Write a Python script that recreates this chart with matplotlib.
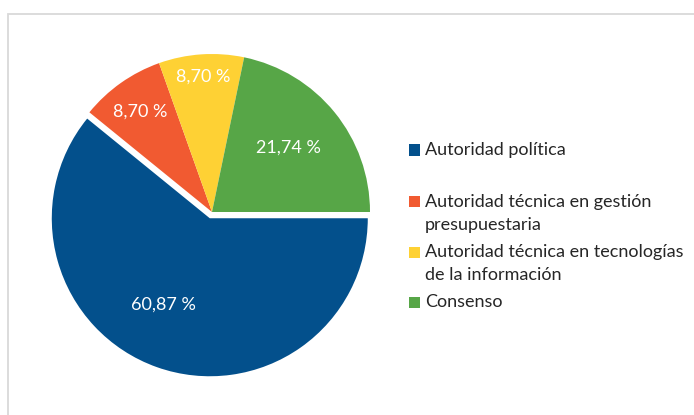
import matplotlib
matplotlib.use("Agg")
import matplotlib.pyplot as plt
from matplotlib.patches import Rectangle
import numpy as np

plt.rcParams['font.family'] = ['Lato', 'DejaVu Sans']

labels = ["Autoridad política",
          "Autoridad técnica en gestión\npresupuestaria",
          "Autoridad técnica en tecnologías\nde la información",
          "Consenso"]
values = [60.87, 8.70, 8.70, 21.74]
colors = ["#03508C", "#F15A31", "#FED134", "#57A647"]

W, H = 694, 415
fig = plt.figure(figsize=(W / 100, H / 100), dpi=100)

# chart border (light grey), runs off right and bottom
fig.add_artist(Rectangle((7.5 / W, -0.1), 1.2, (H - 14.5) / H + 0.1,
                         transform=fig.transFigure, fill=False,
                         edgecolor="#D9D9D9", linewidth=1.3))

R = 158
cx, cy = 212, 212
half = 1.1 * R
ax = fig.add_axes([(cx - half) / W, (H - cy - half) / H, 2 * half / W, 2 * half / H])

wedges, _ = ax.pie(values, colors=colors, startangle=0, counterclock=False,
                   explode=[0.042, 0, 0, 0], radius=1.0)
ax.set_xlim(-1.1, 1.1)
ax.set_ylim(-1.1, 1.1)
ax.axis("off")

# label placement per slice (distance from centre, angle tweak)
lab_dist = [0.62, 0.78, 0.86, 0.63]
lab_rot = [-9, 0.5, 0, 1]
for w, v, d, rot in zip(wedges, values, lab_dist, lab_rot):
    ang = np.deg2rad((w.theta1 + w.theta2) / 2 + rot)
    x0, y0 = w.center
    ax.text(x0 + d * np.cos(ang), y0 + d * np.sin(ang),
            f"{v:.2f} %".replace(".", ","), color="white",
            fontsize=13, ha="center", va="center")

# legend, drawn by hand to mimic the first-line alignment
leg_y = [150, 202, 252, 302]
for lab, c, y in zip(labels, colors, leg_y):
    fig.add_artist(Rectangle((409 / W, (H - y - 5.5) / H), 11 / W, 11 / H,
                             transform=fig.transFigure, facecolor=c, edgecolor="none"))
    fig.text(425 / W, (H - y + 8) / H, lab, fontsize=13, color="#262626",
             ha="left", va="top", linespacing=1.5)

fig.savefig("out.png", dpi=100)
